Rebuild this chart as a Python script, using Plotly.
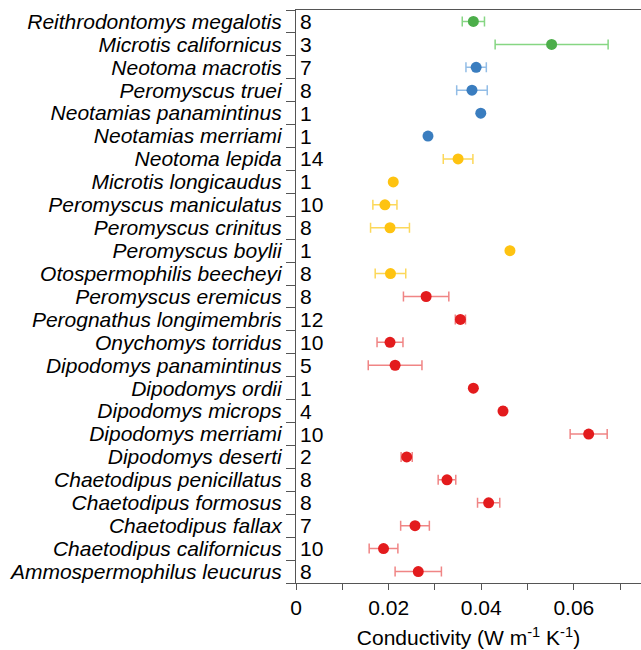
import plotly.graph_objects as go

species = [
    "Reithrodontomys megalotis", "Microtis californicus", "Neotoma macrotis",
    "Peromyscus truei", "Neotamias panamintinus", "Neotamias merriami",
    "Neotoma lepida", "Microtis longicaudus", "Peromyscus maniculatus",
    "Peromyscus crinitus", "Peromyscus boylii", "Otospermophilis beecheyi",
    "Peromyscus eremicus", "Perognathus longimembris", "Onychomys torridus",
    "Dipodomys panamintinus", "Dipodomys ordii", "Dipodomys microps",
    "Dipodomys merriami", "Dipodomys deserti", "Chaetodipus penicillatus",
    "Chaetodipus formosus", "Chaetodipus fallax", "Chaetodipus californicus",
    "Ammospermophilus leucurus",
]
n_values = [8, 3, 7, 8, 1, 1, 14, 1, 10, 8, 1, 8, 8, 12, 10, 5, 1, 4, 10, 2, 8, 8, 7, 10, 8]
conductivity = [0.0383, 0.0552, 0.0389, 0.0380, 0.0399, 0.0285, 0.0350, 0.0210, 0.0192,
                0.0203, 0.0462, 0.0204, 0.0281, 0.0355, 0.0203, 0.0214, 0.0383, 0.0447,
                0.0632, 0.0239, 0.0326, 0.0416, 0.0257, 0.0189, 0.0264]
error = [0.0024, 0.0122, 0.0022, 0.0033, 0, 0, 0.0032, 0, 0.0026,
         0.0042, 0, 0.0033, 0.0049, 0.0011, 0.0028, 0.0058, 0, 0.0005,
         0.0040, 0.0012, 0.0019, 0.0024, 0.0031, 0.0031, 0.0050]
group = ["green"] * 2 + ["blue"] * 4 + ["yellow"] * 6 + ["red"] * 13
x_ticks = [0, 0.02, 0.04, 0.06]
x_tick_labels = ["0", "0.02", "0.04", "0.06"]

marker_colors = {"green": "#4cae4a", "blue": "#3a7dbf", "yellow": "#fec311", "red": "#e31b1d"}
error_colors = {"green": "#86d683", "blue": "#93bde6", "yellow": "#fcd85a", "red": "#f08585"}

FONT = "Liberation Sans, Arial, sans-serif"
ypos = list(range(len(species)))

fig = go.Figure()
for g in ["green", "blue", "yellow", "red"]:
    idx = [i for i, gg in enumerate(group) if gg == g]
    fig.add_trace(go.Scatter(
        x=[conductivity[i] for i in idx],
        y=[ypos[i] for i in idx],
        mode="markers",
        marker=dict(color=marker_colors[g], size=11),
        error_x=dict(type="data", array=[error[i] for i in idx], visible=True,
                     color=error_colors[g], thickness=1.5, width=5),
        showlegend=False,
    ))

for i, n in enumerate(n_values):
    fig.add_annotation(x=0, y=ypos[i], xref="x", yref="y", text=str(n),
                       showarrow=False, xanchor="left", yanchor="middle", xshift=2,
                       font=dict(family=FONT, size=21, color="#000"))

fig.update_layout(
    width=641, height=650,
    margin=dict(l=296, r=0, t=10, b=67),
    plot_bgcolor="white", paper_bgcolor="white",
    font=dict(family=FONT, size=21, color="#000"),
    xaxis=dict(
        range=[0, 0.0745], tickvals=x_ticks, ticktext=x_tick_labels, automargin=False,
        ticks="outside", ticklen=6, tickcolor="#555", showline=True, linecolor="#555",
        linewidth=1.2, mirror=True, showgrid=False, zeroline=False,
        minor=dict(tickvals=[0.01, 0.03, 0.05, 0.07], ticks="outside", ticklen=6, tickcolor="#555"),
        title=dict(text="Conductivity (W m<sup>-1</sup> K<sup>-1</sup>)", standoff=12,
                   font=dict(size=21)),
        tickfont=dict(size=21),
    ),
    yaxis=dict(
        range=[len(species) - 0.5, -0.5], tickvals=ypos, automargin=False,
        ticktext=["<i>%s</i>" % s for s in species],
        ticks="", ticklabelstandoff=9, showline=True, linecolor="#555", linewidth=1.2,
        showgrid=False, zeroline=False,
        minor=dict(tickvals=[i - 0.5 for i in range(len(species) + 1)], ticks="outside",
                   ticklen=9, tickcolor="#555"),
        tickfont=dict(size=21),
    ),
)

fig.write_html("out.html", config={"displayModeBar": False},
               post_script="document.body.style.margin='0';document.body.style.overflow='hidden';")
